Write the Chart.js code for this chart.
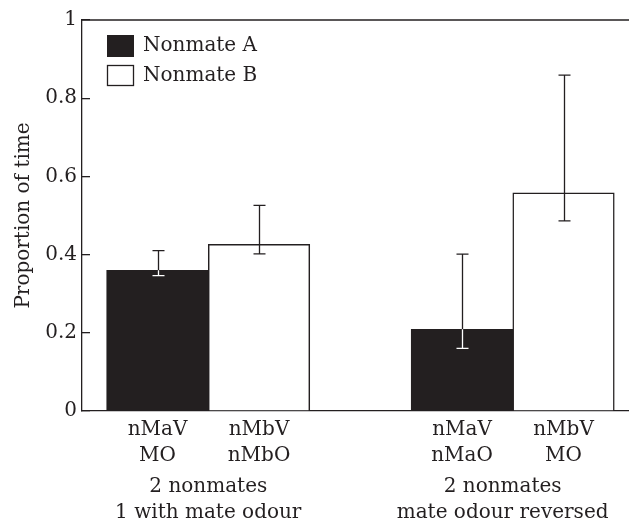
<!DOCTYPE html>
<html>
<head>
<meta charset="utf-8">
<script src="https://cdn.jsdelivr.net/npm/chart.js@4.4.1/dist/chart.umd.min.js"></script>
<style>
    html, body { margin: 0; padding: 0; background: #fff; }
    #wrap { width: 629px; height: 519px; position: relative; }
</style>
</head>
<body>
<div id="wrap"><canvas id="barChart"></canvas></div>
<script>
// data
const seriesNames = ['Nonmate A', 'Nonmate B'];
const conditionLabels = [['nMaV', 'MO'], ['nMbV', 'nMbO'], ['nMaV', 'nMaO'], ['nMbV', 'MO']];
const groupLabels = [['2 nonmates', '1 with mate odour'], ['2 nonmates', 'mate odour reversed']];
const nonmateA = [0.36, 0.209];
const nonmateB = [0.426, 0.558];
const nonmateALow = [0.346, 0.160];
const nonmateAHigh = [0.410, 0.401];
const nonmateBLow = [0.402, 0.486];
const nonmateBHigh = [0.526, 0.859];
const yTicks = [0, 0.2, 0.4, 0.6, 0.8, 1];

const dark = '#231f20';
const fontFamily = '"DejaVu Serif", serif';

// each group takes 3 slots on the x axis: A, B, gap
const slotOf = (g, s) => g * 3 + s + 0.5;
const conditionPos = [slotOf(0, 0), slotOf(0, 1), slotOf(1, 0), slotOf(1, 1)];
const groupPos = [1, 3.9];

const errorBars = {
    id: 'errorBars',
    afterDatasetsDraw(chart) {
        const ctx = chart.ctx;
        const y = chart.scales.y;
        const lows = [nonmateALow, nonmateBLow];
        const highs = [nonmateAHigh, nonmateBHigh];
        ctx.save();
        ctx.lineWidth = 1.3;
        chart.data.datasets.forEach((ds, d) => {
            const meta = chart.getDatasetMeta(d);
            meta.data.forEach((bar, i) => {
                const x = Math.round(bar.x) + 0.5;
                const yHi = y.getPixelForValue(highs[d][i]);
                const yLo = y.getPixelForValue(lows[d][i]);
                const filled = d === 0;
                // part above the bar top
                ctx.strokeStyle = dark;
                ctx.beginPath();
                ctx.moveTo(x, yHi);
                ctx.lineTo(x, filled ? Math.min(bar.y, yLo) : yLo);
                ctx.moveTo(x - 6, yHi);
                ctx.lineTo(x + 6, yHi);
                if (!filled || yLo < bar.y) {
                    ctx.moveTo(x - 6, yLo);
                    ctx.lineTo(x + 6, yLo);
                }
                ctx.stroke();
                // part inside a filled bar is white
                if (filled && yLo > bar.y) {
                    ctx.strokeStyle = '#ffffff';
                    ctx.beginPath();
                    ctx.moveTo(x, bar.y);
                    ctx.lineTo(x, yLo);
                    ctx.moveTo(x - 6, yLo);
                    ctx.lineTo(x + 6, yLo);
                    ctx.stroke();
                }
            });
        });
        ctx.restore();
    }
};

const frameAndLegend = {
    id: 'frameAndLegend',
    afterDraw(chart) {
        const ctx = chart.ctx;
        const area = chart.chartArea;
        ctx.save();
        // top frame line
        ctx.strokeStyle = dark;
        ctx.lineWidth = 1.3;
        ctx.beginPath();
        ctx.moveTo(area.left, area.top);
        ctx.lineTo(area.right, area.top);
        ctx.stroke();
        // legend
        ctx.font = '20px ' + fontFamily;
        ctx.textBaseline = 'middle';
        ctx.textAlign = 'left';
        chart.data.datasets.forEach((ds, d) => {
            const bx = area.left + 25;
            const by = area.top + 15 + d * 30;
            if (d === 0) {
                ctx.fillStyle = dark;
                ctx.fillRect(bx, by, 27, 22);
            } else {
                ctx.fillStyle = '#fff';
                ctx.fillRect(bx, by, 27, 21);
                ctx.strokeRect(bx + 0.5, by + 0.5, 26, 20);
            }
            ctx.fillStyle = dark;
            ctx.fillText(ds.label, bx + 36, by + 11);
        });
        ctx.restore();
    }
};

new Chart(document.getElementById('barChart').getContext('2d'), {
    type: 'bar',
    data: {
        datasets: [{
            label: seriesNames[0],
            data: nonmateA.map((v, g) => ({ x: slotOf(g, 0), y: v })),
            backgroundColor: dark,
            borderWidth: 0
        }, {
            label: seriesNames[1],
            data: nonmateB.map((v, g) => ({ x: slotOf(g, 1), y: v })),
            backgroundColor: '#ffffff',
            borderColor: dark,
            borderWidth: 1.5,
            borderSkipped: 'start'
        }]
    },
    options: {
        responsive: true,
        maintainAspectRatio: false,
        animation: false,
        grouped: false,
        barPercentage: 1,
        categoryPercentage: 1,
        layout: { padding: { top: 20, left: 0, right: 0, bottom: 0 } },
        plugins: {
            legend: { display: false },
            tooltip: { enabled: false }
        },
        scales: {
            x: {
                type: 'linear',
                position: 'bottom',
                offset: false,
                min: -0.244,
                max: 5.145,
                afterBuildTicks: scale => { scale.ticks = conditionPos.map(v => ({ value: v })); },
                afterFit: scale => { scale.height = 60; },
                grid: { display: false, offset: false },
                border: { display: true, color: dark, width: 1.3 },
                ticks: {
                    color: dark,
                    padding: -3,
                    maxRotation: 0,
                    autoSkip: false,
                    font: { family: fontFamily, size: 20, lineHeight: 1.33 },
                    callback: (v, i) => conditionLabels[i]
                }
            },
            x2: {
                type: 'linear',
                position: 'bottom',
                offset: false,
                min: -0.244,
                max: 5.145,
                afterBuildTicks: scale => { scale.ticks = groupPos.map(v => ({ value: v })); },
                afterFit: scale => { scale.height = 48; },
                grid: { display: false, offset: false },
                border: { display: false },
                ticks: {
                    color: dark,
                    padding: -5,
                    maxRotation: 0,
                    autoSkip: false,
                    font: { family: fontFamily, size: 20, lineHeight: 1.28 },
                    callback: (v, i) => groupLabels[i]
                }
            },
            y: {
                min: 0,
                max: 1,
                afterBuildTicks: scale => { scale.ticks = yTicks.map(v => ({ value: v })); },
                afterFit: scale => {
                    scale.width = 82;
                    scale.paddingTop = 0;
                    scale.paddingBottom = 0;
                },
                grid: { drawOnChartArea: false, tickLength: -8, color: dark, lineWidth: 1.3 },
                border: { display: true, color: dark, width: 1.3 },
                ticks: {
                    color: dark,
                    padding: 13,
                    font: { family: fontFamily, size: 20 },
                    callback: v => String(Math.round(v * 10) / 10)
                },
                title: {
                    display: true,
                    text: 'Proportion of time',
                    color: dark,
                    padding: { top: 12, bottom: 0 },
                    font: { family: fontFamily, size: 20 }
                }
            }
        }
    },
    plugins: [errorBars, frameAndLegend]
});
</script>
</body>
</html>
